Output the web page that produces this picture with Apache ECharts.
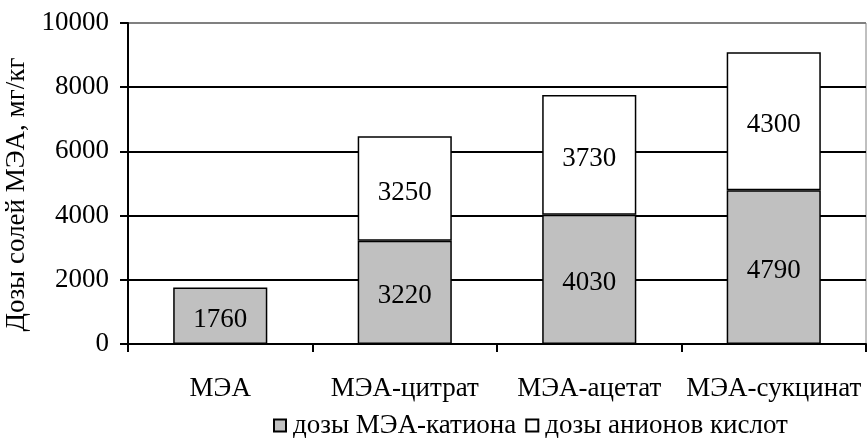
<!DOCTYPE html>
<html><head><meta charset="utf-8">
<script src="https://cdn.jsdelivr.net/npm/echarts@6/dist/echarts.min.js"></script>
<style>html,body{margin:0;padding:0;background:#fff}#c{width:867px;height:438px}</style>
</head><body><div id="c"></div>
<script>
var categories = ['МЭА', 'МЭА-цитрат', 'МЭА-ацетат', 'МЭА-сукцинат'];
var cationDoses = [1760, 3220, 4030, 4790];
var anionDoses = [null, 3250, 3730, 4300];
var seriesNames = ['дозы МЭА-катиона', 'дозы анионов кислот'];
var yAxisName = 'Дозы солей МЭА, мг/кг';

var FONT = '"Liberation Serif", "DejaVu Serif", serif';
var chart = echarts.init(document.getElementById('c'));
var lbl = {show: true, position: 'inside', color: '#000', fontFamily: FONT, fontSize: 27, offset: [0, 4]};
chart.setOption({
  animation: false,
  textStyle: {fontFamily: FONT},
  grid: {left: 128, right: 1, top: 23, bottom: 94, show: true, borderColor: '#808080', borderWidth: 1,
         containLabel: false, outerBoundsMode: 'none'},
  legend: {
    top: 412, left: 273, itemWidth: 12, itemHeight: 12, itemGap: 9, padding: 0,
    icon: 'rect',
    textStyle: {fontFamily: FONT, fontSize: 27, color: '#000', padding: [0, 0, 0, 2]},
    data: seriesNames
  },
  xAxis: {
    type: 'category', data: categories,
    axisLine: {lineStyle: {color: '#000', width: 2}},
    axisTick: {show: true, length: 8, lineStyle: {color: '#000', width: 2}},
    axisLabel: {color: '#000', fontFamily: FONT, fontSize: 27, margin: 31, interval: 0}
  },
  yAxis: {
    type: 'value', min: 0, max: 10000, interval: 2000,
    name: yAxisName, nameLocation: 'middle', nameGap: 95,
    nameTextStyle: {color: '#000', fontFamily: FONT, fontSize: 27, padding: [0, 22, 0, 0]},
    axisLine: {show: true, lineStyle: {color: '#000', width: 2}},
    axisTick: {show: true, inside: false, length: 8, lineStyle: {color: '#000', width: 2}},
    axisLabel: {color: '#000', fontFamily: FONT, fontSize: 27, margin: 19,
                formatter: function (v) { return String(v); }},
    splitLine: {show: true, lineStyle: {color: ['#000', '#000', '#000', '#000', '#000', '#808080'], width: 2}}
  },
  series: [
    {name: seriesNames[0], type: 'bar', stack: 's', data: cationDoses, barWidth: '51%',
     itemStyle: {color: '#c0c0c0', borderColor: '#000', borderWidth: 1.5}, label: lbl},
    {name: seriesNames[1], type: 'bar', stack: 's', data: anionDoses, barWidth: '51%',
     itemStyle: {color: '#fff', borderColor: '#000', borderWidth: 1.5}, label: lbl}
  ]
});
</script></body></html>
